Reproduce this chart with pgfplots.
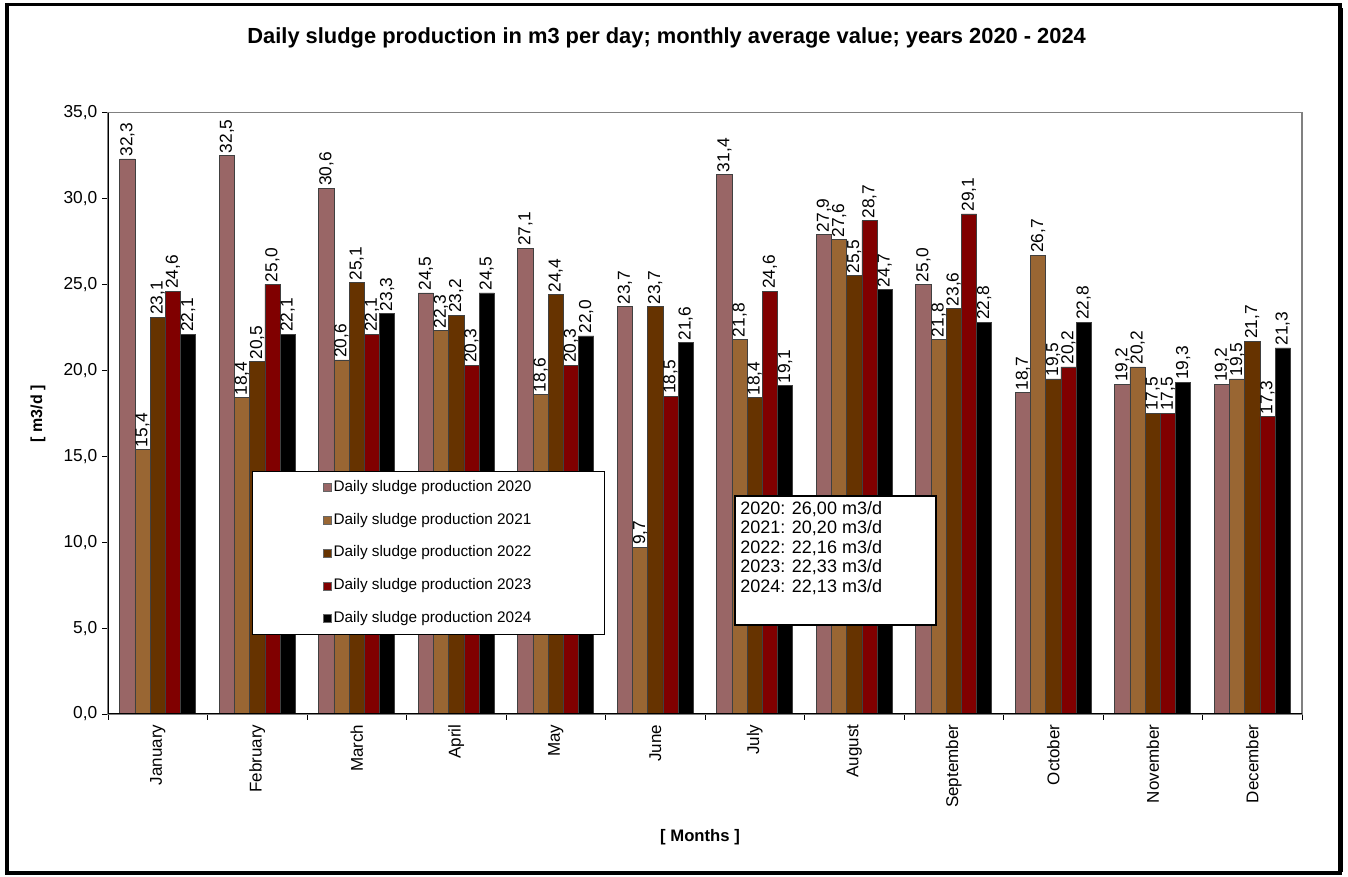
\documentclass[border=0pt]{standalone}
\usepackage{fontspec}
\setmainfont{Liberation Sans}
\usepackage{pgfplots}
\usepackage{pgfplotstable}
\pgfplotsset{compat=1.18}

\definecolor{c2020}{RGB}{153,102,102}
\definecolor{c2021}{RGB}{153,102,51}
\definecolor{c2022}{RGB}{102,51,0}
\definecolor{c2023}{RGB}{128,0,0}
\definecolor{c2024}{RGB}{0,0,0}

% monthly average, m3/d
\pgfplotstableread{
month y2020 y2021 y2022 y2023 y2024
1  32.3 15.4 23.1 24.6 22.1
2  32.5 18.4 20.5 25.0 22.1
3  30.6 20.6 25.1 22.1 23.3
4  24.5 22.3 23.2 20.3 24.5
5  27.1 18.6 24.4 20.3 22.0
6  23.7 9.7  23.7 18.5 21.6
7  31.4 21.8 18.4 24.6 19.1
8  27.9 27.6 25.5 28.7 24.7
9  25.0 21.8 23.6 29.1 22.8
10 18.7 26.7 19.5 20.2 22.8
11 19.2 20.2 17.5 17.5 19.3
12 19.2 19.5 21.7 17.3 21.3
}\sludge

\begin{document}
\begin{tikzpicture}
% page = 1348 x 877 px, 1px = 0.75pt
\useasboundingbox[fill=white] (0,0) rectangle (1011pt,657.75pt);
\draw[line width=2.4pt] (5.25pt,3pt) rectangle (1005pt,654.5pt);
\draw[line width=2pt] (1006.5pt,4pt) -- (1006.5pt,652pt);

\node[font=\bfseries\fontsize{16.4}{19}\selectfont] at (500pt,629pt)
  {Daily sludge production in m3 per day; monthly average value; years 2020 - 2024};
\node[font=\bfseries\fontsize{12}{14}\selectfont, rotate=90] at (28.5pt,347.5pt) {[ m3/d ]};
\node[font=\bfseries\fontsize{12.5}{15}\selectfont] at (525pt,29.5pt) {[ Months ]};

\begin{axis}[
  at={(81pt,122.25pt)}, anchor=south west,
  scale only axis, width=895.5pt, height=451.1pt,
  ybar=0pt, bar width=11.4pt,
  xmin=0.5, xmax=12.5, ymin=0, ymax=35,
  xtick={1,...,12},
  xticklabels={January,February,March,April,May,June,July,August,September,October,November,December},
  xticklabel style={rotate=90, anchor=east, font=\fontsize{12.75}{15}\selectfont},
  major x tick style={draw=none},
  minor xtick={0.5,1.5,...,12.5},
  minor x tick style={black, line width=0.6pt},
  minor tick length=4.5pt,
  xtick pos=bottom, ytick pos=left,
  ytick={0,5,...,35},
  y tick style={black, line width=0.6pt},
  major tick length=4.5pt,
  tick align=outside,
  yticklabel style={font=\fontsize{13}{15}\selectfont,
    /pgf/number format/.cd, fixed, fixed zerofill, precision=1, use comma},
  /pgf/number format/assume math mode=true,
  axis line style={gray, line width=0.8pt},
  nodes near coords,
  nodes near coords style={rotate=90, anchor=west, inner sep=1.5pt,
    font=\fontsize{13}{15}\selectfont,
    /pgf/number format/.cd, fixed, fixed zerofill, precision=1, use comma},
  every axis plot/.append style={draw=black!75, line width=0.5pt},
  legend cell align=left,
  legend image code/.code={\draw[#1, draw=black!60, line width=0.4pt] (0pt,-3pt) rectangle (6pt,3pt);},
  legend style={at={(0.1206,0.404)}, anchor=north west, draw=black, line width=0.6pt,
    fill=white, inner xsep=53pt, inner ysep=6.5pt, row sep=13.6pt,
    font=\fontsize{11.5}{13}\selectfont,
    nodes={inner sep=0pt, text height=8.5pt, text depth=2.5pt, inner xsep=1.5pt}},
]
\addplot[fill=c2020] table[x=month, y=y2020] {\sludge};
\addplot[fill=c2021] table[x=month, y=y2021] {\sludge};
\addplot[fill=c2022] table[x=month, y=y2022] {\sludge};
\addplot[fill=c2023] table[x=month, y=y2023] {\sludge};
\addplot[fill=c2024] table[x=month, y=y2024] {\sludge};
\legend{Daily sludge production 2020, Daily sludge production 2021,
  Daily sludge production 2022, Daily sludge production 2023,
  Daily sludge production 2024}
\draw[black, line width=0.8pt] (rel axis cs:0,1) -- (rel axis cs:0,0) -- (rel axis cs:1,0);
\end{axis}

% yearly averages box
\draw[fill=white, line width=1pt] (551.25pt,285.75pt) rectangle (702pt,189pt);
\node[anchor=north west, align=left, inner sep=0pt,
  font=\fontsize{13.5}{14.6}\selectfont] at (555pt,282pt)
  {2020: 26,00 m3/d\\2021: 20,20 m3/d\\2022: 22,16 m3/d\\2023: 22,33 m3/d\\2024: 22,13 m3/d};
\end{tikzpicture}
\end{document}
